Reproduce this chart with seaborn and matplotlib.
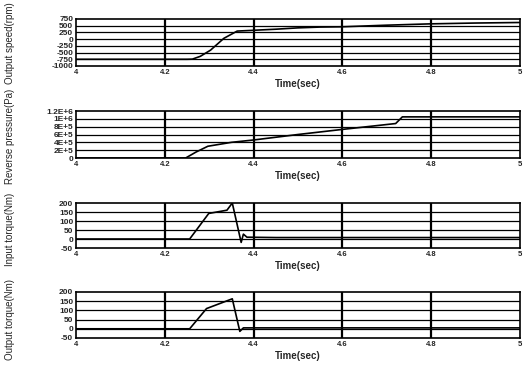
import numpy as np
import pandas as pd
import matplotlib
matplotlib.use("Agg")
import matplotlib.pyplot as plt
import seaborn as sns

# Time samples (s) and measured signals
speed_t = [4.0, 4.25, 4.262, 4.28, 4.303, 4.333, 4.363, 4.4, 4.45, 4.5, 4.55, 4.6, 4.7, 4.8, 4.9, 5.0]
speed_v = [-750, -750, -745, -640, -410, 30, 300, 330, 370, 420, 450, 460, 520, 570, 600, 620]

press_t = [4.0, 4.247, 4.27, 4.297, 4.35, 4.4, 4.5, 4.6, 4.72, 4.735, 4.8, 5.0]
press_v = [0, 0, 150000, 300000, 400000, 460000, 600000, 730000, 880000, 1050000, 1050000, 1050000]

tin_t = [4.0, 4.256, 4.299, 4.34, 4.352, 4.372, 4.377, 4.385, 4.45, 5.0]
tin_v = [0, 0, 142, 160, 200, -19, 27, 10, 8, 8]

tout_t = [4.0, 4.256, 4.294, 4.352, 4.369, 4.377, 4.45, 5.0]
tout_v = [0, 0, 110, 163, -14, 5, 5, 5]

x_ticks = [4, 4.2, 4.4, 4.6, 4.8, 5]
x_labels = ["4", "4.2", "4.4", "4.6", "4.8", "5"]

speed_ticks = [-1000, -750, -500, -250, 0, 250, 500, 750]
speed_labels = ["-1000", "-750", "-500", "-250", "0", "250", "500", "750"]
press_ticks = [0, 200000, 400000, 600000, 800000, 1000000, 1200000]
press_labels = ["0", "2E+5", "4E+5", "6E+5", "8E+5", "1E+6", "1.2E+6"]
torque_ticks = [-50, 0, 50, 100, 150, 200]
torque_labels = ["-50", "0", "50", "100", "150", "200"]

panels = [
    (speed_t, speed_v, speed_ticks, speed_labels, "Output speed(rpm)"),
    (press_t, press_v, press_ticks, press_labels, "Reverse pressure(Pa)"),
    (tin_t, tin_v, torque_ticks, torque_labels, "Input torque(Nm)"),
    (tout_t, tout_v, torque_ticks, torque_labels, "Output torque(Nm)"),
]

sns.set_style("white")
plt.rcParams["font.family"] = ["Liberation Sans", "DejaVu Sans"]
plt.rcParams["font.weight"] = "bold"

fig = plt.figure(figsize=(5.23, 3.70), dpi=100)
W, H = 523.0, 370.0
# axes boxes in pixels: (left, top, right, bottom)
boxes = [(76, 19, 520, 66), (76, 111, 520, 158), (76, 203, 520, 248), (76, 292, 520, 338)]
label_centers = [43, 136, 229, 319]

for (t, v, yt, yl, name), (l, tp, r, b), yc in zip(panels, boxes, label_centers):
    ax = fig.add_axes([l / W, 1 - b / H, (r - l) / W, (b - tp) / H])
    df = pd.DataFrame({"Time(sec)": t, name: v})
    sns.lineplot(data=df, x="Time(sec)", y=name, ax=ax, color="black", linewidth=1.2)
    ax.set_xlim(4, 5)
    ax.set_ylim(yt[0], yt[-1])
    ax.set_xticks(x_ticks)
    ax.set_xticklabels(x_labels, fontsize=5.5, fontweight="bold")
    ax.set_yticks(yt)
    ax.set_yticklabels(yl, fontsize=6, fontweight="bold")
    ax.tick_params(axis="both", length=0, pad=2)
    for yv in yt[1:-1]:
        ax.axhline(yv, color="black", linewidth=0.9, zorder=1)
    for xv in x_ticks[1:-1]:
        ax.axvline(xv, color="black", linewidth=1.6, zorder=1)
    for s in ax.spines.values():
        s.set_color("black")
        s.set_linewidth(1.2)
    ax.set_xlabel("Time(sec)", fontsize=7, fontweight="bold", labelpad=2)
    ax.set_ylabel("")
    fig.text(10 / W, 1 - yc / H, name, rotation=90, ha="center", va="center",
             fontsize=7, fontweight="normal")

fig.savefig("out.png", dpi=100, facecolor="white")
